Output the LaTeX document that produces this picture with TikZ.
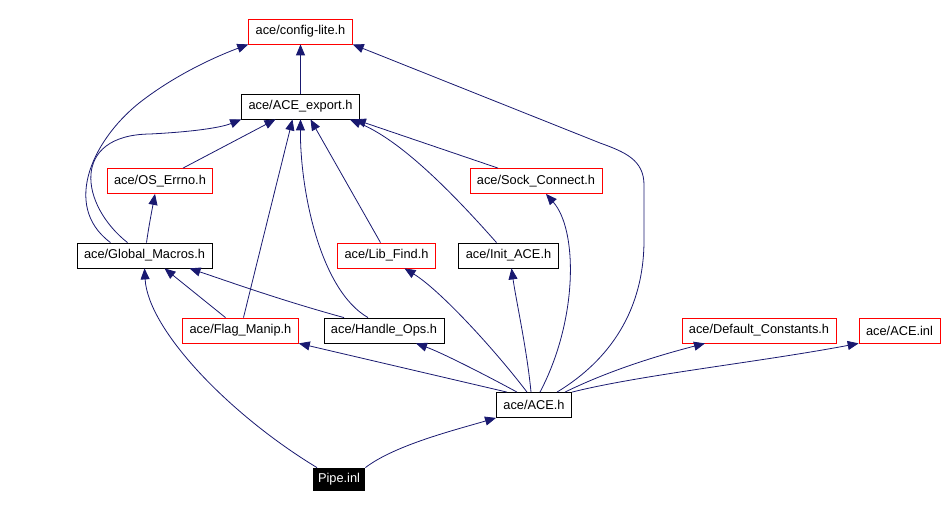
\documentclass[tikz,border=0pt]{standalone}
\usepackage{fontspec}
\setmainfont{Liberation Sans}
\usetikzlibrary{arrows.meta}
\definecolor{edgeblue}{RGB}{25,25,112}

\begin{document}
\begin{tikzpicture}[
    x=1pt, y=-1pt,
    file/.style={draw, rectangle, minimum height=25pt, inner xsep=7pt, inner ysep=0pt, line width=0.8pt, font=\fontsize{12.8}{14}\selectfont},
    known/.style={file, draw=black},
    missing/.style={file, draw=red},
    current/.style={file, draw=none, fill=black, text=white, minimum height=23pt, inner xsep=5pt},
    dep/.style={edgeblue, line width=0.8pt, -{Triangle[length=11pt,width=9pt]}}
  ]
  \useasboundingbox (0,0) rectangle (944,510);

  % Header boxes
  \node[missing] (config) at (300.5,31.5) {ace/config-lite.h};
  \node[known] (export) at (300.5,106.5) {ace/ACE\_export.h};
  \node[missing] (errno) at (160,181) {ace/OS\_Errno.h};
  \node[missing] (sock) at (536,181) {ace/Sock\_Connect.h};
  \node[known] (macros) at (144.5,255.5) {ace/Global\_Macros.h};
  \node[missing] (libfind) at (386.5,255.5) {ace/Lib\_Find.h};
  \node[known] (init) at (508.5,255.5) {ace/Init\_ACE.h};
  \node[missing] (flag) at (240.5,330.5) {ace/Flag\_Manip.h};
  \node[known] (handle) at (384,330.5) {ace/Handle\_Ops.h};
  \node[missing] (defaults) at (759,330.5) {ace/Default\_Constants.h};
  \node[missing] (aceinl) at (899.5,330.5) {ace/ACE.inl};
  \node[known] (aceh) at (534,405) {ace/ACE.h};
  \node[current] (pipe) at (339,479.5) {Pipe.inl};

  % Pipe.inl includes
  \draw[dep] (pipe.north east) .. controls (395,445) and (455,430) .. (aceh.south west);
  \draw[dep] ([xshift=-22pt]pipe.north) .. controls (230,415) and (148,330) .. (macros.south);

  % ACE.h includes
  \draw[dep] ([xshift=-27pt]aceh.north) -- (flag.south east);
  \draw[dep] ([xshift=-17pt]aceh.north) .. controls (480,372) and (440,352) .. ([xshift=32pt]handle.south);
  \draw[dep] ([xshift=-7pt]aceh.north) .. controls (495,350) and (440,290) .. ([xshift=18pt]libfind.south);
  \draw[dep] ([xshift=-3pt]aceh.north) .. controls (527,350) and (516,300) .. ([xshift=3pt]init.south);
  \draw[dep] ([xshift=6pt]aceh.north) .. controls (578,320) and (578,230) .. ([xshift=10pt]sock.south);
  \draw[dep] ([xshift=23pt]aceh.north) .. controls (610,360) and (644,310) .. (644,240)
    -- (644,185) .. controls (644,160) and (625,152) .. (600,143) -- (config.south east);
  \draw[dep] ([xshift=31pt]aceh.north) .. controls (610,370) and (660,355) .. ([xshift=-54pt]defaults.south);
  \draw[dep] (aceh.north east) .. controls (640,375) and (760,362) .. (aceinl.south west);

  % Global_Macros.h includes
  \draw[dep] ([xshift=2pt]macros.north) .. controls (149,225) and (152,210) .. ([xshift=-5pt]errno.south);
  \draw[dep] ([xshift=-17pt]macros.north) .. controls (80,205) and (70,135) .. (150,134)
    .. controls (190,132) and (220,128) .. (export.south west);
  \draw[dep] ([xshift=-34pt]macros.north) .. controls (60,205) and (95,136) .. (143,100)
    .. controls (180,72) and (220,55) .. (config.south west);

  % the rest
  \draw[dep] ([xshift=23pt]errno.north) -- ([xshift=-25pt]export.south);
  \draw[dep] ([xshift=-15pt]flag.north) -- ([xshift=20pt]macros.south);
  \draw[dep] ([xshift=3pt]flag.north) .. controls (265,230) and (285,150) .. ([xshift=-8pt]export.south);
  \draw[dep] ([xshift=-40pt]handle.north) .. controls (280,300) and (230,282) .. ([xshift=45pt]macros.south);
  \draw[dep] ([xshift=-16pt]handle.north) .. controls (320,290) and (300,190) .. (export.south);
  \draw[dep] ([xshift=-6pt]libfind.north) -- ([xshift=10pt]export.south);
  \draw[dep] ([xshift=-12pt]init.north) .. controls (450,190) and (400,140) .. ([xshift=-10pt]export.south east);
  \draw[dep] ([xshift=-38pt]sock.north) -- ([xshift=-5pt]export.south east);
  \draw[dep] (export.north) -- (config.south);

\end{tikzpicture}
\end{document}
